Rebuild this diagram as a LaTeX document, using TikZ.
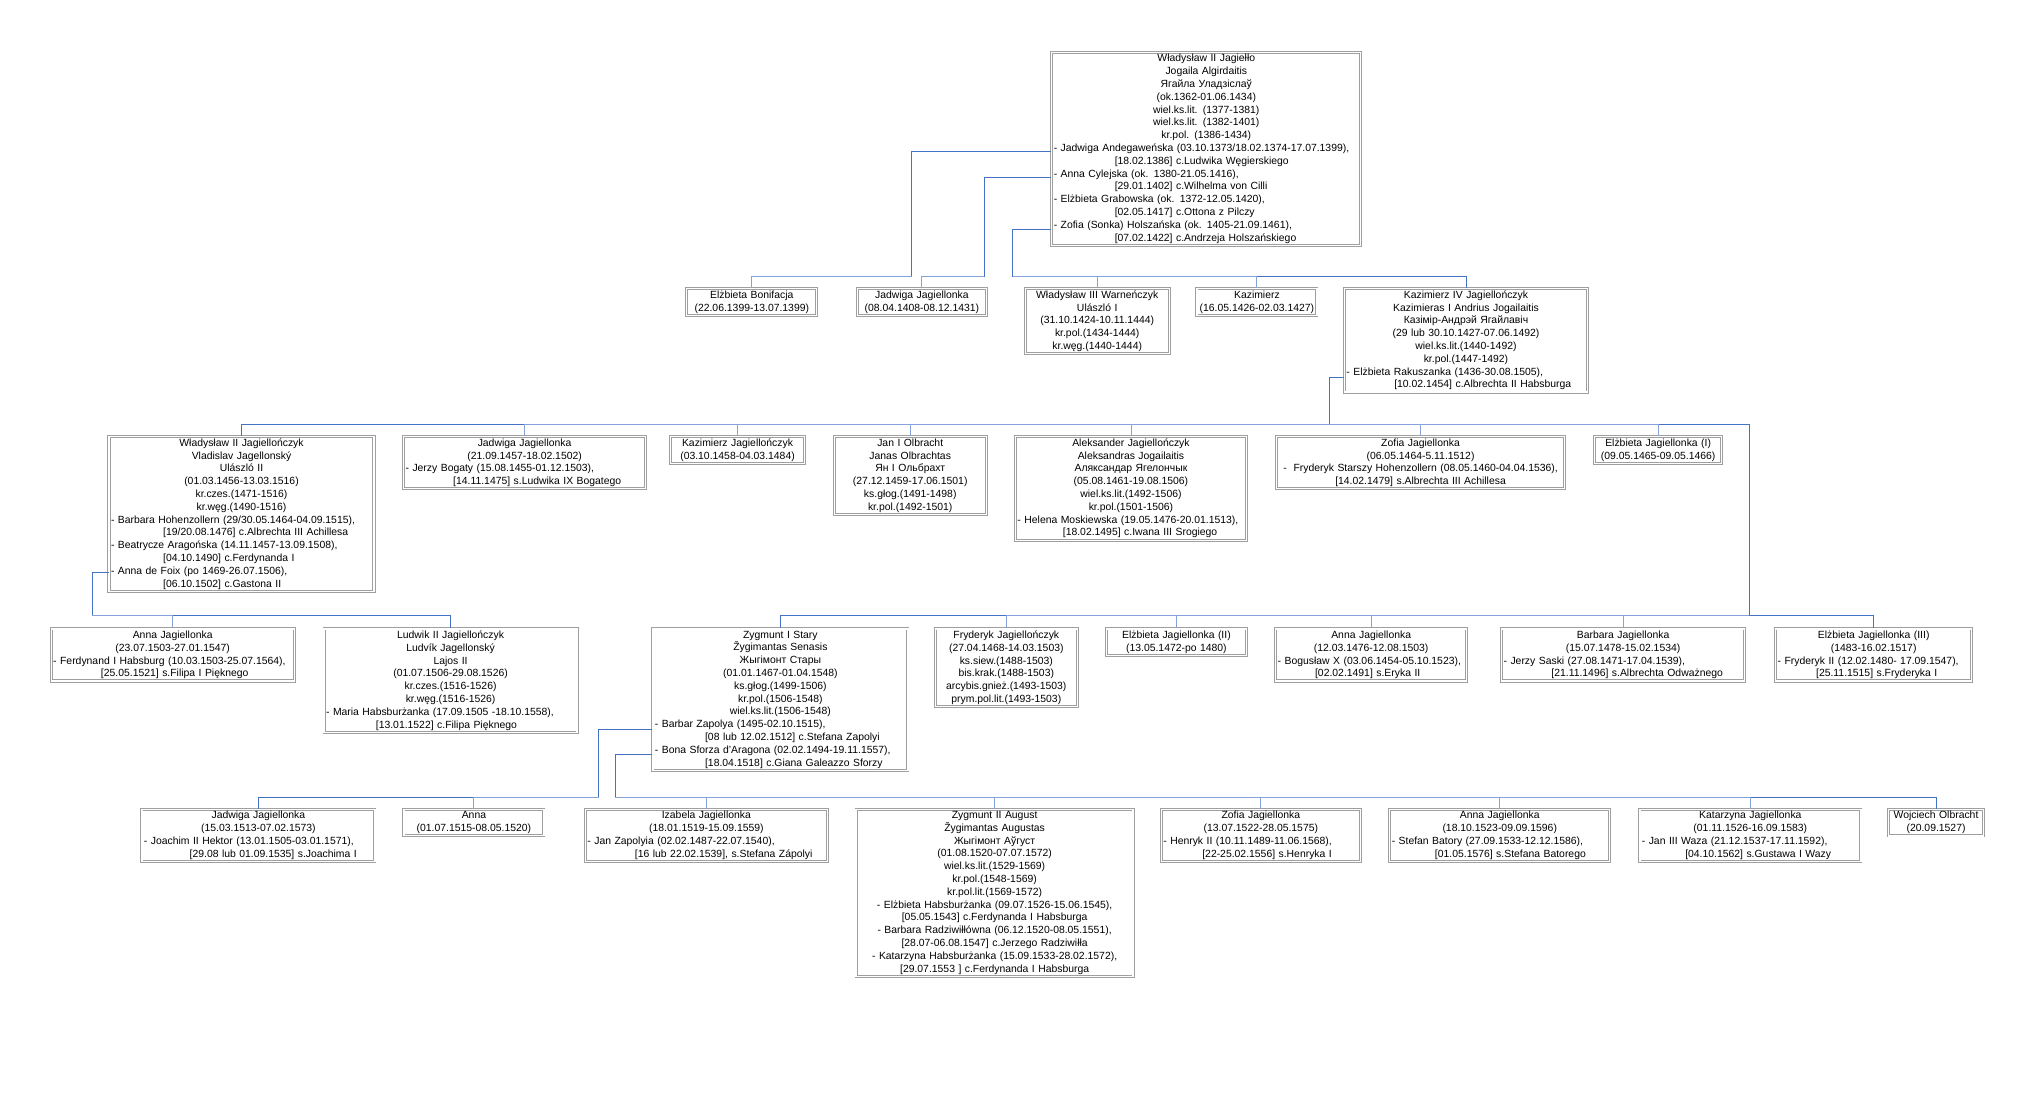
\documentclass[tikz,border=0pt]{standalone}
\usepackage{fontspec}
\setmainfont{Liberation Sans}
\usepackage{tikz}
\definecolor{kin}{RGB}{68,114,196}
\newcommand\spouse[2]{\makebox[\linewidth][l]{- #1}\\\makebox[\linewidth][l]{\hspace{0.2\linewidth}#2}}

\begin{document}
\begin{tikzpicture}[x=1.2985pt,y=-1.2985pt,semithick]

  \tikzstyle{person}=[rectangle,draw=gray!75,double=white,double distance=1.3pt,
                      line width=0.9pt,align=center,anchor=north,inner sep=2pt,
                      font=\fontsize{10.4}{12.8}\selectfont]
  \tikzstyle{tie}=[draw=kin,line width=0.9pt]
  \tikzstyle{drop}=[draw=kin!65,line width=0.9pt]

  \useasboundingbox (0,0) rectangle (1568,860);

  % pokolenie 0
  \node[person,text width=305pt] (wj) at (929,40) {Władysław II Jagiełło\\Jogaila Algirdaitis\\Ягайла Уладзіслаў\\(ok.1362-01.06.1434)\\wiel.ks.lit. (1377-1381)\\wiel.ks.lit. (1382-1401)\\kr.pol. (1386-1434)\\
    \spouse{Jadwiga Andegaweńska (03.10.1373/18.02.1374-17.07.1399),}{[18.02.1386] c.Ludwika Węgierskiego}\\
    \spouse{Anna Cylejska (ok. 1380-21.05.1416),}{[29.01.1402] c.Wilhelma von Cilli}\\
    \spouse{Elżbieta Grabowska (ok. 1372-12.05.1420),}{[02.05.1417] c.Ottona z Pilczy}\\
    \spouse{Zofia (Sonka) Holszańska (ok. 1405-21.09.1461),}{[07.02.1422] c.Andrzeja Holszańskiego}};

  % pokolenie 1
  \node[person,text width=126pt] (eb)  at (579,222)  {Elżbieta Bonifacja\\(22.06.1399-13.07.1399)};
  \node[person,text width=125pt] (jj1) at (710,222)  {Jadwiga Jagiellonka\\(08.04.1408-08.12.1431)};
  \node[person,text width=140pt] (w3)  at (845,222)  {Władysław III Warneńczyk\\Ulászló I\\(31.10.1424-10.11.1444)\\kr.pol.(1434-1444)\\kr.węg.(1440-1444)};
  \node[person,text width=116pt] (kz)  at (968,222)  {Kazimierz\\(16.05.1426-02.03.1427)};
  \node[person,text width=239pt] (k4)  at (1129,222) {Kazimierz IV Jagiellończyk\\Kazimieras I Andrius Jogailaitis\\Казімір-Андрэй Ягайлавіч\\(29 lub 30.10.1427-07.06.1492)\\wiel.ks.lit.(1440-1492)\\kr.pol.(1447-1492)\\
    \spouse{Elżbieta Rakuszanka (1436-30.08.1505),}{[10.02.1454] c.Albrechta II Habsburga}};

  % pokolenie 2
  \node[person,text width=261pt] (w2)  at (186,336)  {Władysław II Jagiellończyk\\Vladislav Jagellonský\\Ulászló II\\(01.03.1456-13.03.1516)\\kr.czes.(1471-1516)\\kr.węg.(1490-1516)\\
    \spouse{Barbara Hohenzollern (29/30.05.1464-04.09.1515),}{[19/20.08.1476] c.Albrechta III Achillesa}\\
    \spouse{Beatrycze Aragońska (14.11.1457-13.09.1508),}{[04.10.1490] c.Ferdynanda I}\\
    \spouse{Anna de Foix (po 1469-26.07.1506),}{[06.10.1502] c.Gastona II}};
  \node[person,text width=238pt] (jj2) at (404,336)  {Jadwiga Jagiellonka\\(21.09.1457-18.02.1502)\\
    \spouse{Jerzy Bogaty (15.08.1455-01.12.1503),}{[14.11.1475] s.Ludwika IX Bogatego}};
  \node[person,text width=130pt] (kj)  at (568,336)  {Kazimierz Jagiellończyk\\(03.10.1458-04.03.1484)};
  \node[person,text width=148pt] (jo)  at (701,336)  {Jan I Olbracht\\Janas Olbrachtas\\Ян I Ольбрахт\\(27.12.1459-17.06.1501)\\ks.głog.(1491-1498)\\kr.pol.(1492-1501)};
  \node[person,text width=227pt] (al)  at (871,336)  {Aleksander Jagiellończyk\\Aleksandras Jogailaitis\\Аляксандар Ягелончык\\(05.08.1461-19.08.1506)\\wiel.ks.lit.(1492-1506)\\kr.pol.(1501-1506)\\
    \spouse{Helena Moskiewska (19.05.1476-20.01.1513),}{[18.02.1495] c.Iwana III Srogiego}};
  \node[person,text width=284pt] (zj1) at (1094,336) {Zofia Jagiellonka\\(06.05.1464-5.11.1512)\\
     -~ Fryderyk Starszy Hohenzollern (08.05.1460-04.04.1536),\\{}[14.02.1479] s.Albrechta III Achillesa};
  \node[person,text width=123pt] (ej1) at (1277,336) {Elżbieta Jagiellonka (I)\\(09.05.1465-09.05.1466)};

  % pokolenie 3
  \node[person,text width=239pt] (aj1) at (133,484)  {Anna Jagiellonka\\(23.07.1503-27.01.1547)\\
    \spouse{Ferdynand I Habsburg (10.03.1503-25.07.1564),}{[25.05.1521] s.Filipa I Pięknego}};
  \node[person,text width=249pt] (lu)  at (347,484)  {Ludwik II Jagiellończyk\\Ludvík Jagellonský\\Lajos II\\(01.07.1506-29.08.1526)\\kr.czes.(1516-1526)\\kr.węg.(1516-1526)\\
    \spouse{Maria Habsburżanka (17.09.1505 -18.10.1558),}{[13.01.1522] c.Filipa Pięknego}};
  \node[person,text width=251pt] (z1)  at (601,484)  {Zygmunt I Stary\\Žygimantas Senasis\\Жыгімонт Стары\\(01.01.1467-01.04.1548)\\ks.głog.(1499-1506)\\kr.pol.(1506-1548)\\wiel.ks.lit.(1506-1548)\\
    \spouse{Barbar Zapolya (1495-02.10.1515),}{[08 lub 12.02.1512] c.Stefana Zapolyi}\\
    \spouse{Bona Sforza d'Aragona (02.02.1494-19.11.1557),}{[18.04.1518] c.Giana Galeazzo Sforzy}};
  \node[person,text width=138pt] (fj)  at (775,484)  {Fryderyk Jagiellończyk\\(27.04.1468-14.03.1503)\\ks.siew.(1488-1503)\\bis.krak.(1488-1503)\\arcybis.gnież.(1493-1503)\\prym.pol.lit.(1493-1503)};
  \node[person,text width=136pt] (ej2) at (906,484)  {Elżbieta Jagiellonka (II)\\(13.05.1472-po 1480)};
  \node[person,text width=187pt] (aj2) at (1056,484) {Anna Jagiellonka\\(12.03.1476-12.08.1503)\\
    \spouse{Bogusław X (03.06.1454-05.10.1523),}{[02.02.1491] s.Eryka II}};
  \node[person,text width=239pt] (bj)  at (1250,484) {Barbara Jagiellonka\\(15.07.1478-15.02.1534)\\
    \spouse{Jerzy Saski (27.08.1471-17.04.1539),}{[21.11.1496] s.Albrechta Odważnego}};
  \node[person,text width=192pt] (ej3) at (1443,484) {Elżbieta Jagiellonka (III)\\(1483-16.02.1517)\\
    \spouse{Fryderyk II (12.02.1480- 17.09.1547),}{[25.11.1515] s.Fryderyka I}};

  % pokolenie 4
  \node[person,text width=229pt] (jj3) at (199,623)  {Jadwiga Jagiellonka\\(15.03.1513-07.02.1573)\\
    \spouse{Joachim II Hektor (13.01.1505-03.01.1571),}{[29.08 lub 01.09.1535] s.Joachima I}};
  \node[person,text width=136pt] (an)  at (365,623)  {Anna\\(01.07.1515-08.05.1520)};
  \node[person,text width=238pt] (iz)  at (544,623)  {Izabela Jagiellonka\\(18.01.1519-15.09.1559)\\
    \spouse{Jan Zapolyia (02.02.1487-22.07.1540),}{[16 lub 22.02.1539], s.Stefana Zápolyi}};
  \node[person,text width=273pt] (z2)  at (766,623)  {Zygmunt II August\\Žygimantas Augustas\\Жыгімонт Аўгуст\\(01.08.1520-07.07.1572)\\wiel.ks.lit.(1529-1569)\\kr.pol.(1548-1569)\\kr.pol.lit.(1569-1572)\\
    - Elżbieta Habsburżanka (09.07.1526-15.06.1545),\\{}[05.05.1543] c.Ferdynanda I Habsburga\\
    - Barbara Radziwiłłówna (06.12.1520-08.05.1551),\\{}[28.07-06.08.1547] c.Jerzego Radziwiłła\\
    - Katarzyna Habsburżanka (15.09.1533-28.02.1572),\\{}[29.07.1553 ] c.Ferdynanda I Habsburga};
  \node[person,text width=195pt] (zj2) at (971,623)  {Zofia Jagiellonka\\(13.07.1522-28.05.1575)\\
    \spouse{Henryk II (10.11.1489-11.06.1568),}{[22-25.02.1556] s.Henryka I}};
  \node[person,text width=216pt] (aj3) at (1155,623) {Anna Jagiellonka\\(18.10.1523-09.09.1596)\\
    \spouse{Stefan Batory (27.09.1533-12.12.1586),}{[01.05.1576] s.Stefana Batorego}};
  \node[person,text width=217pt] (kt)  at (1348,623) {Katarzyna Jagiellonka\\(01.11.1526-16.09.1583)\\
    \spouse{Jan III Waza (21.12.1537-17.11.1592),}{[04.10.1562] s.Gustawa I Wazy}};
  \node[person,text width=91pt]  (wo)  at (1491,623) {Wojciech Olbracht\\(20.09.1527)};

  % punkty malzenstw
  \coordinate (m1) at (wj.west |- 0,117);
  \coordinate (m2) at (wj.west |- 0,137);
  \coordinate (m4) at (wj.west |- 0,177);
  \coordinate (m5) at (k4.west |- 0,291);
  \coordinate (m6) at (w2.west |- 0,441);
  \coordinate (m7) at (z1.west |- 0,562);
  \coordinate (m8) at (z1.west |- 0,581);

  \path[tie] (m1) -| (702,213) coordinate (j1);
  \path[drop] (j1) -| (eb.north);
  \path[tie] (m2) -| (758,213) coordinate (j2);
  \path[drop] (j2) -| (jj1.north);
  \path[tie] (m4) -| (780,213) coordinate (j3);
  \path[tie] (j3) -| (k4.north);
  \path[drop] (j3) -| (w3.north);
  \path[drop] (j3) -| (kz.north);

  \path[tie] (m5) -| (1024,327) coordinate (j4);
  \path[tie] (j4) -| (w2.north);
  \path[tie] (j4) -| (1347,474) coordinate (j5);
  \foreach \c in {jj2,kj,jo,al,zj1,ej1} \path[drop] (j4) -| (\c.north);
  \path[tie] (j5) -| (z1.north);
  \path[tie] (j5) -| (ej3.north);
  \foreach \c in {fj,ej2,aj2,bj} \path[drop] (j5) -| (\c.north);

  \path[tie] (m6) -| (71,474) coordinate (j6);
  \path[tie] (j6) -| (lu.north);
  \path[drop] (j6) -| (aj1.north);

  \path[tie] (m7) -| (461,614) coordinate (j7);
  \path[tie] (j7) -| (jj3.north);
  \path[drop] (j7) -| (an.north);
  \path[tie] (m8) -| (474,614) coordinate (j8);
  \path[tie] (j8) -| (wo.north);
  \foreach \c in {iz,z2,zj2,aj3,kt} \path[drop] (j8) -| (\c.north);
\end{tikzpicture}
\end{document}
